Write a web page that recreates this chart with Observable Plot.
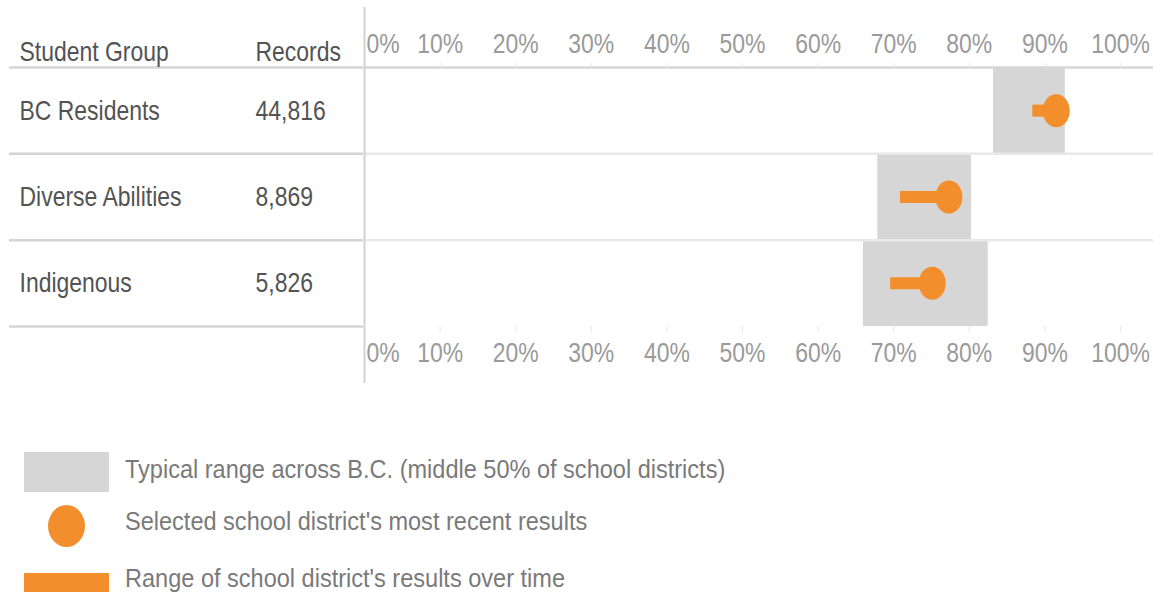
<!DOCTYPE html>
<html>
<head>
<meta charset="utf-8">
<script src="https://cdn.jsdelivr.net/npm/d3@7"></script>
<script src="https://cdn.jsdelivr.net/npm/@observablehq/plot@0.6"></script>
<style>
  html, body { margin: 0; padding: 0; background: #fff; }
  body { width: 1153px; height: 592px; overflow: hidden; position: relative;
         font-family: "Liberation Sans", Arial, sans-serif; }
  #chart { height: 400px; }
  #legend { position: relative; width: 1153px; height: 192px; }
  .lg { position: absolute; }
  .lt { position: absolute; left: 125px; font-size: 26px; color: #7a7a7a; line-height: 1; white-space: nowrap;
        transform: scaleX(0.905); transform-origin: 0 50%; }
</style>
</head>
<body>
<div id="chart"></div>
<div id="legend"></div>
<script>
const groups = ["BC Residents", "Diverse Abilities", "Indigenous"];
const records = ["44,816", "8,869", "5,826"];
const typicalLow = [83.2, 67.9, 66.0];
const typicalHigh = [92.7, 80.3, 82.5];
const rangeStart = [88.4, 70.9, 69.6];
const recentResult = [91.5, 77.3, 75.1];
const tickValues = [0, 10, 20, 30, 40, 50, 60, 70, 80, 90, 100];
const columns = ["Student Group", "Records"];
const legendLabels = [
  "Typical range across B.C. (middle 50% of school districts)",
  "Selected school district's most recent results",
  "Range of school district's results over time"
];

const ORANGE = "#f28e2b";
const BOX = "#d6d6d6";
const FONT = `"Liberation Sans", Arial, sans-serif`;
const SQUEEZE = 0.82;

const rows = groups.map((g, i) => ({
  group: g, records: records[i], i,
  lo: typicalLow[i], hi: typicalHigh[i], start: rangeStart[i], recent: recentResult[i]
}));

// Ellipse symbol (taller than wide)
const ellipse = {
  draw(ctx, size) {
    const r = Math.sqrt(size / Math.PI), ry = r, rx = r * 0.82, k = 0.5523;
    ctx.moveTo(rx, 0);
    ctx.bezierCurveTo(rx, k * ry, k * rx, ry, 0, ry);
    ctx.bezierCurveTo(-k * rx, ry, -rx, k * ry, -rx, 0);
    ctx.bezierCurveTo(-rx, -k * ry, -k * rx, -ry, 0, -ry);
    ctx.bezierCurveTo(k * rx, -ry, rx, -k * ry, rx, 0);
    ctx.closePath();
  }
};

const colX = [19, 255];
const TXT = "#535353", TICK = "#9a9a9a", FS = 28;

const chart = Plot.plot({
  width: 1153,
  height: 400,
  marginLeft: 364,
  marginRight: 33,
  marginTop: 67,
  marginBottom: 74,
  style: {fontFamily: FONT, fontSize: FS + "px", background: "white", overflow: "visible"},
  x: {domain: [0, 100], axis: null},
  y: {domain: [0, groups.length], range: [67, 326], axis: null},
  marks: [
    Plot.rect(rows, {x1: "lo", x2: "hi", y1: d => d.i, y2: d => d.i + 1, fill: BOX}),
    Plot.ruleY([1, 2], {stroke: "#e8e8e8", strokeWidth: 2.5, insetLeft: 1, insetRight: -33}),
    Plot.ruleY([0], {stroke: "#d6d6d6", strokeWidth: 2.5, insetLeft: 1, insetRight: -33}),
    Plot.ruleY([0, 1, 2, 3], {stroke: "#d4d4d4", strokeWidth: 2.5, insetLeft: -355, insetRight: 757}),
    Plot.ruleX([0], {stroke: "#d2d2d2", strokeWidth: 2, insetTop: -60, insetBottom: -57}),
    Plot.axisX({anchor: "top", ticks: tickValues.slice(1), tickFormat: d => d + "%", tickSize: 5, tickPadding: 10,
      stroke: "#e6e6e6", fill: TICK, fontSize: FS}),
    Plot.axisX({anchor: "bottom", ticks: tickValues.slice(1), tickFormat: d => d + "%", tickSize: 6, tickPadding: 10,
      stroke: "#e6e6e6", fill: TICK, fontSize: FS}),
    Plot.text(tickValues.slice(0, 1), {x: d => d, frameAnchor: "top", lineAnchor: "bottom", dy: -15, dx: 2,
      textAnchor: "start", text: d => d + "%", fill: TICK, fontSize: FS}),
    Plot.text(tickValues.slice(0, 1), {x: d => d, frameAnchor: "bottom", lineAnchor: "top", dy: 16, dx: 2,
      textAnchor: "start", text: d => d + "%", fill: TICK, fontSize: FS}),
    Plot.text(columns.slice(0, 1), {x: 0, y: 0, text: d => d, textAnchor: "start", lineAnchor: "bottom",
      dx: colX[0] - 364, dy: -7, fill: TXT, fontSize: FS}),
    Plot.text(columns.slice(1, 2), {x: 0, y: 0, text: d => d, textAnchor: "start", lineAnchor: "bottom",
      dx: colX[1] - 364, dy: -7, fill: TXT, fontSize: FS}),
    Plot.ruleY(rows, {y: d => d.i + 0.5, x1: "start", x2: "recent", stroke: ORANGE, strokeWidth: 12}),
    Plot.dot(rows, {x: "recent", y: d => d.i + 0.5, r: 16.5, symbol: ellipse, fill: ORANGE, stroke: null}),
    Plot.text(rows, {x: 0, y: d => d.i + 0.5, text: "group", textAnchor: "start", dx: colX[0] - 364, fill: TXT, fontSize: FS}),
    Plot.text(rows, {x: 0, y: d => d.i + 0.5, text: "records", textAnchor: "start", dx: colX[1] - 364, fill: TXT, fontSize: FS})
  ]
});

// Condense every label horizontally (Arial Narrow look) around its own anchor point
chart.querySelectorAll("text").forEach(t => {
  const tr = t.getAttribute("transform") || "";
  t.setAttribute("transform", `${tr} scale(${SQUEEZE},1)`);
});
document.getElementById("chart").appendChild(chart);

// Legend
const legend = document.getElementById("legend");
const swatches = [
  {left: 24, top: 52, width: 85, height: 40, background: BOX, radius: "0"},
  {left: 48, top: 105, width: 37, height: 42, background: ORANGE, radius: "50%"},
  {left: 24, top: 173, width: 85, height: 22, background: ORANGE, radius: "0"}
];
const textCenters = [69, 120.5, 178];
swatches.forEach((s, i) => {
  const d = document.createElement("div");
  d.className = "lg";
  Object.assign(d.style, {left: s.left + "px", top: s.top + "px", width: s.width + "px", height: s.height + "px",
    background: s.background, borderRadius: s.radius});
  legend.appendChild(d);
  const t = document.createElement("div");
  t.className = "lt";
  t.textContent = legendLabels[i];
  t.style.top = (textCenters[i] - 13) + "px";
  legend.appendChild(t);
});
</script>
</body>
</html>
